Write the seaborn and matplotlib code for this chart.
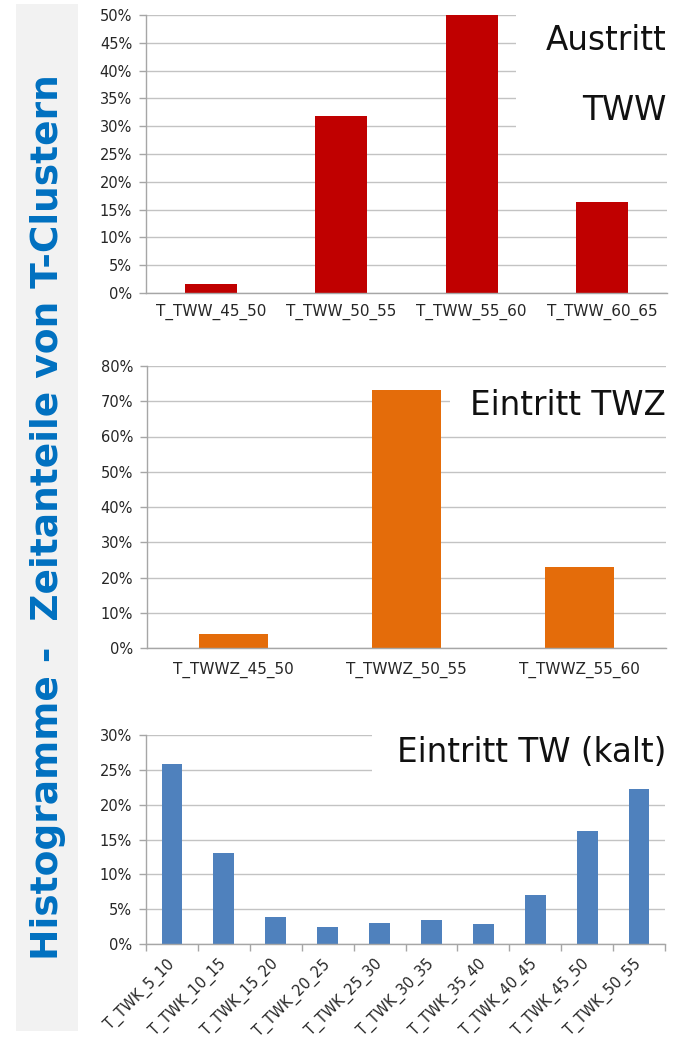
import matplotlib
matplotlib.use("Agg")
import matplotlib.pyplot as plt
import seaborn as sns
import numpy as np
from matplotlib.ticker import PercentFormatter, FixedLocator
from matplotlib.patches import Rectangle

# ---------------- data ----------------
tww_cats = ["T_TWW_45_50", "T_TWW_50_55", "T_TWW_55_60", "T_TWW_60_65"]
tww_vals = [0.016, 0.319, 0.500, 0.164]

twwz_cats = ["T_TWWZ_45_50", "T_TWWZ_50_55", "T_TWWZ_55_60"]
twwz_vals = [0.039, 0.732, 0.229]

twk_cats = ["T_TWK_5_10", "T_TWK_10_15", "T_TWK_15_20", "T_TWK_20_25",
            "T_TWK_25_30", "T_TWK_30_35", "T_TWK_35_40", "T_TWK_40_45",
            "T_TWK_45_50", "T_TWK_50_55"]
twk_vals = [0.258, 0.130, 0.039, 0.025, 0.030, 0.035, 0.029, 0.070, 0.162, 0.223]

main_title = "Histogramme -  Zeitanteile von T-Clustern"

# ---------------- style ----------------
sns.set_style("white")
plt.rcParams["font.family"] = ["DejaVu Sans"]

W, H = 689, 1038
fig = plt.figure(figsize=(W / 100, H / 100), dpi=100)
fig.patch.set_facecolor("white")

AX_COL = "#a6a6a6"
GRID_COL = "#c3c3c3"
TXT_COL = "#262626"


def px_axes(l, t, r, b):
    return fig.add_axes([l / W, 1 - b / H, (r - l) / W, (b - t) / H])


def style_axes(ax, ymax, ystep, xpad, xsize=11):
    ax.set_ylim(0, ymax)
    ax.yaxis.set_major_locator(FixedLocator(np.arange(0, ymax + 1e-9, ystep)))
    ax.yaxis.set_major_formatter(PercentFormatter(1.0, decimals=0))
    ax.yaxis.grid(True, color=GRID_COL, linewidth=1)
    ax.xaxis.grid(False)
    ax.set_axisbelow(True)
    for s in ["top", "right"]:
        ax.spines[s].set_visible(False)
    for s in ["left", "bottom"]:
        ax.spines[s].set_color(AX_COL)
        ax.spines[s].set_linewidth(1)
    ax.tick_params(axis="y", left=True, length=5, width=1, color=AX_COL,
                   labelsize=10.5, labelcolor=TXT_COL, pad=5)
    ax.tick_params(axis="x", length=0, labelsize=xsize, labelcolor=TXT_COL, pad=xpad)
    ax.set_xlabel("")
    ax.set_ylabel("")


# ---- chart 1: Austritt TWW ----
ax1 = px_axes(146, 15, 667, 293)
sns.barplot(x=tww_cats, y=tww_vals, color="#c00000", saturation=1, width=0.4,
            linewidth=0, ax=ax1)
style_axes(ax1, 0.5, 0.05, 8)

# ---- chart 2: Eintritt TWZ ----
ax2 = px_axes(147, 366, 666, 648)
sns.barplot(x=twwz_cats, y=twwz_vals, color="#e46c0a", saturation=1, width=0.4,
            linewidth=0, ax=ax2)
style_axes(ax2, 0.8, 0.1, 10)

# ---- chart 3: Eintritt TW (kalt) ----
ax3 = px_axes(146, 735, 665, 944)
sns.barplot(x=twk_cats, y=twk_vals, color="#4f81bd", saturation=1, width=0.4,
            linewidth=0, ax=ax3)
style_axes(ax3, 0.3, 0.05, 8, xsize=10.5)
ax3.xaxis.set_minor_locator(FixedLocator(np.arange(-0.5, len(twk_cats), 1.0)))
ax3.tick_params(axis="x", which="minor", bottom=True, length=5, width=1, color=AX_COL)
for lab in ax3.get_xticklabels():
    lab.set_rotation(45)
    lab.set_ha("right")
    lab.set_va("center")
    lab.set_rotation_mode("anchor")
ax3.tick_params(axis="x", which="major", pad=13)

# ---- white boxes behind the chart titles (cover gridlines) ----
for (x0, y0, x1, y1) in [(516, 8, 689, 140), (450, 378, 689, 420), (372, 725, 689, 785)]:
    fig.add_artist(Rectangle((x0 / W, 1 - y1 / H), (x1 - x0) / W, (y1 - y0) / H,
                             transform=fig.transFigure, facecolor="white",
                             edgecolor="none", zorder=2))

# ---- chart titles ----
tkw = dict(ha="right", va="baseline", fontsize=23.5, color="#111111", zorder=3)
fig.text(667 / W, 1 - 50 / H, "Austritt", **tkw)
fig.text(667 / W, 1 - 120 / H, "TWW", **tkw)
fig.text(666 / W, 1 - 415 / H, "Eintritt TWZ", **tkw)
fig.text(666 / W, 1 - 762 / H, "Eintritt TW (kalt)", **tkw)

# ---- left vertical title band ----
fig.add_artist(Rectangle((16 / W, 1 - 1031 / H), (78 - 16) / W, (1031 - 4) / H,
                         transform=fig.transFigure, facecolor="#f2f2f2",
                         edgecolor="none", zorder=0))
fig.text(48 / W, 1 - 517 / H, main_title, rotation=90, ha="center", va="center",
         fontsize=27, fontweight="bold", color="#0070c0", zorder=3)

fig.savefig("out.png", dpi=100, facecolor="white")
